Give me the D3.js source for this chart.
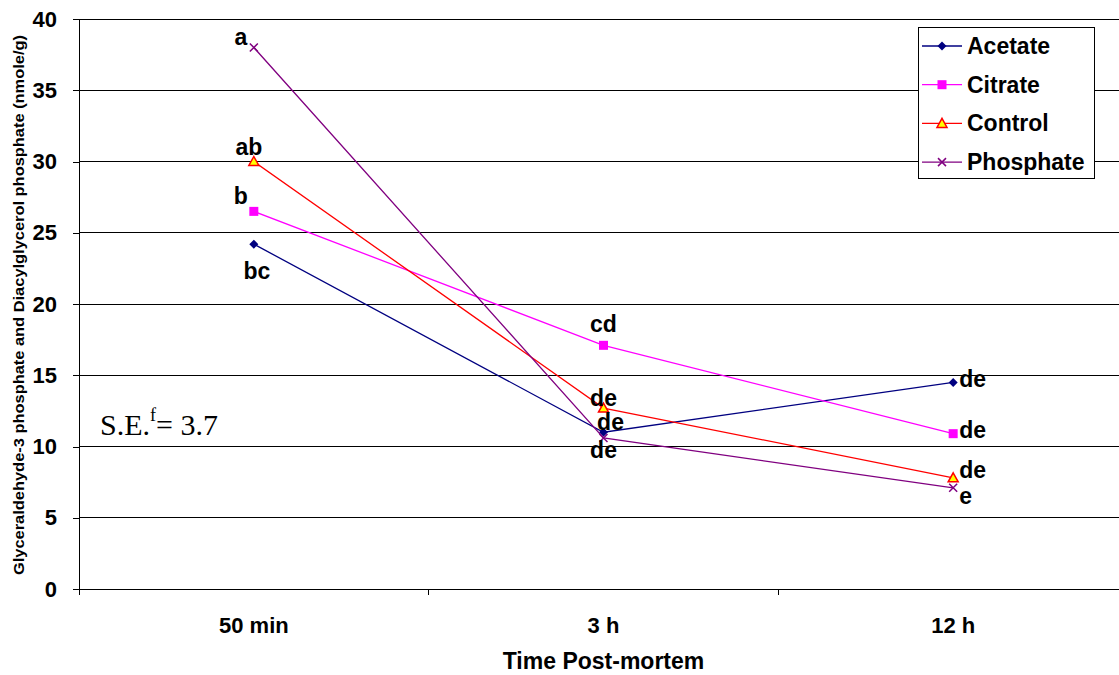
<!DOCTYPE html>
<html><head><meta charset="utf-8">
<script src="https://cdn.jsdelivr.net/npm/d3@7"></script>
<style>body{margin:0;background:#fff}svg{display:block}</style>
</head><body><div id="c"></div>
<script>
const categories = ["50 min", "3 h", "12 h"];
const seriesNames = ["Acetate", "Citrate", "Control", "Phosphate"];
const acetate = [24.2, 11.0, 14.5];
const citrate = [26.5, 17.1, 10.9];
const control = [30.0, 12.7, 7.8];
const phosphate = [38.0, 10.6, 7.1];
const yTicks = [0, 5, 10, 15, 20, 25, 30, 35, 40];
// significance letters: [seriesIndex, pointIndex, text]
const letters = [
  [3, 0, "a"], [2, 0, "ab"], [1, 0, "b"], [0, 0, "bc"],
  [1, 1, "cd"], [2, 1, "de"], [0, 1, "de"], [3, 1, "de"],
  [0, 2, "de"], [1, 2, "de"], [2, 2, "de"], [3, 2, "e"]
];
const seData = ["S.E.", "f", "= 3.7"];

// label nudges relative to their point (layout only): [dx, dy, anchor]
const letterNudge = [
  [-13, -3, "middle"], [-5, -7, "middle"], [-13, -7, "middle"], [3, 35, "middle"],
  [0, -13, "middle"], [0, -2, "middle"], [7, -2, "middle"], [0, 20, "middle"],
  [6, 5, "start"], [6, 4, "start"], [6, 0, "start"], [6, 16, "start"]
];

const values = [acetate, citrate, control, phosphate];
const colors = ["#000080", "#FF00FF", "#FF0000", "#800080"];
const SANS = "'Liberation Sans', Arial, sans-serif";

const W = 1119, H = 675;
const m = {l: 79, t: 19, r: -9, b: 86};
const svg = d3.select("#c").append("svg").attr("width", W).attr("height", H)
  .style("font-family", SANS);

const x = d3.scaleBand().domain(categories).range([m.l, W - m.r]);
const y = d3.scaleLinear().domain([0, 40]).range([H - m.b, m.t]);

// gridlines
svg.append("g").selectAll("line").data(yTicks.filter(d => d > 0)).join("line")
  .attr("x1", m.l).attr("x2", W - m.r).attr("y1", d => y(d)).attr("y2", d => y(d))
  .attr("stroke", "#000").attr("stroke-width", 1).attr("shape-rendering", "crispEdges");

// y axis
const ya = svg.append("g").attr("transform", `translate(${m.l},0)`)
  .call(d3.axisLeft(y).tickValues(yTicks).tickSize(6).tickPadding(16));
ya.attr("font-size", 22).attr("font-family", SANS);
ya.selectAll("text").attr("font-weight", "bold").attr("fill", "#000");
ya.selectAll("line").attr("shape-rendering", "crispEdges");
ya.select(".domain").attr("stroke", "#000").attr("shape-rendering", "crispEdges");

// x axis
const xa = svg.append("g").attr("transform", `translate(0,${y(0)})`)
  .call(d3.axisBottom(x).tickSize(0).tickPadding(28));
xa.attr("font-size", 22).attr("font-family", SANS);
xa.select(".domain").remove();
xa.selectAll("text").attr("font-weight", "bold").attr("fill", "#000");
svg.append("line").attr("x1", m.l - 6).attr("x2", W).attr("y1", y(0)).attr("y2", y(0))
  .attr("stroke", "#000").attr("shape-rendering", "crispEdges");
// category separators
svg.append("g").selectAll("line").data(categories).join("line")
  .attr("x1", d => x(d)).attr("x2", d => x(d)).attr("y1", y(0)).attr("y2", y(0) + 6)
  .attr("stroke", "#000").attr("shape-rendering", "crispEdges");

// axis titles
svg.append("text").attr("x", (x.range()[0] + x.range()[1]) / 2).attr("y", 669)
  .attr("text-anchor", "middle").attr("font-size", 23).attr("font-weight", "bold")
  .text("Time Post-mortem");
svg.append("text").attr("transform", `translate(24,${(y(0) + y(40)) / 2 + 1}) rotate(-90)`)
  .attr("text-anchor", "middle").attr("font-size", 14).attr("font-weight", "bold")
  .attr("textLength", 540).attr("lengthAdjust", "spacingAndGlyphs")
  .text("Glyceraldehyde-3 phosphate and Diacylglycerol phosphate (nmole/g)");

const cx = c => x(c) + x.bandwidth() / 2;
const line = d3.line().x((d, i) => cx(categories[i])).y(d => y(d));

function marker(g, k, px, py) {
  if (k === 0) {
    g.append("path").attr("d", `M${px},${py - 4.5}L${px + 4.5},${py}L${px},${py + 4.5}L${px - 4.5},${py}Z`)
      .attr("fill", colors[0]);
  } else if (k === 1) {
    g.append("rect").attr("x", px - 4.5).attr("y", py - 4.5).attr("width", 9).attr("height", 9)
      .attr("fill", colors[1]);
  } else if (k === 2) {
    g.append("path").attr("d", `M${px},${py - 5}L${px + 5},${py + 4}L${px - 5},${py + 4}Z`)
      .attr("fill", "#FFFF00").attr("stroke", colors[2]).attr("stroke-width", 1.5);
  } else {
    g.append("path").attr("d", `M${px - 4},${py - 4}L${px + 4},${py + 4}M${px - 4},${py + 4}L${px + 4},${py - 4}`)
      .attr("stroke", colors[3]).attr("stroke-width", 1.5);
  }
}

values.forEach((v, k) => {
  const g = svg.append("g");
  g.append("path").attr("d", line(v)).attr("fill", "none").attr("stroke", colors[k]).attr("stroke-width", 1.3);
  v.forEach((d, i) => marker(g, k, cx(categories[i]), y(d)));
});

// letters
letters.forEach(([s, i, t], j) => {
  const o = letterNudge[j];
  svg.append("text").attr("x", cx(categories[i]) + o[0]).attr("y", y(values[s][i]) + o[1])
    .attr("text-anchor", o[2]).attr("font-size", 23).attr("font-weight", "bold").text(t);
});

// S.E. annotation
const se = svg.append("text").attr("x", 100).attr("y", 435)
  .attr("font-family", "'Liberation Serif', 'Times New Roman', serif").attr("font-size", 30);
se.append("tspan").text(seData[0]);
se.append("tspan").attr("font-size", 18).attr("dy", -14).text(seData[1]);
se.append("tspan").attr("dy", 14).text(seData[2]);

// legend
const lg = svg.append("g");
lg.append("rect").attr("x", 918.5).attr("y", 27.5).attr("width", 176).attr("height", 151)
  .attr("fill", "#fff").attr("stroke", "#000");
seriesNames.forEach((n, k) => {
  const ly = 46 + k * 38.7;
  lg.append("line").attr("x1", 922).attr("x2", 962).attr("y1", ly).attr("y2", ly)
    .attr("stroke", colors[k]).attr("stroke-width", 1.3);
  marker(lg, k, 942, ly);
  lg.append("text").attr("x", 967).attr("y", ly + 8).attr("font-size", 23).attr("font-weight", "bold").text(n);
});
</script></body></html>
